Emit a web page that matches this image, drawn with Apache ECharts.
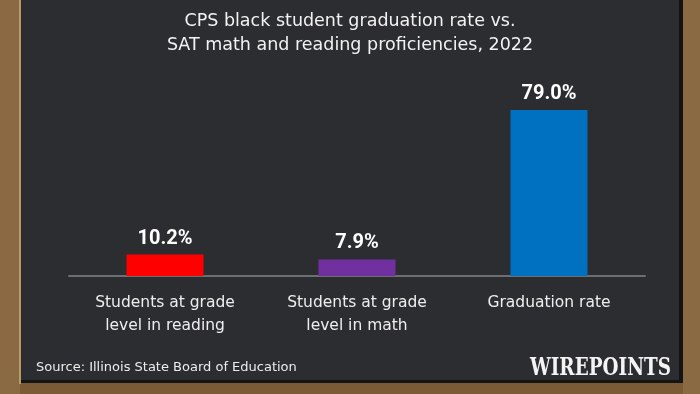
<!DOCTYPE html>
<html><head><meta charset="utf-8">
<script src="https://cdn.jsdelivr.net/npm/echarts@6/dist/echarts.min.js"></script>
<style>html,body{margin:0;padding:0;background:#2b2c2e}#c{width:700px;height:394px}</style>
</head><body><div id="c"></div>
<script>
const categories = ['Students at grade\nlevel in reading', 'Students at grade\nlevel in math', 'Graduation rate'];
const values = [10.2, 7.9, 79.0];
const barColors = ['#ff0000', '#7030a0', '#0070c0'];
const titleLines = ['CPS black student graduation rate vs.', 'SAT math and reading proficiencies, 2022'];
const sourceText = 'Source: Illinois State Board of Education';
const brandText = 'WIREPOINTS';

const FONT = '"Comic Sans MS","DejaVu Sans",sans-serif';
const chart = echarts.init(document.getElementById('c'), null, {renderer: 'canvas'});
chart.setOption({
  backgroundColor: '#7b5b36',
  animation: false,
  title: {
    text: titleLines.join('\n'),
    left: 'center', top: 4,
    textStyle: {color: '#f2f2f2', fontFamily: FONT, fontWeight: 'normal', fontSize: 17.5, lineHeight: 24}
  },
  graphic: [
    {type: 'rect', z: -10, shape: {x: 0, y: 0, width: 20, height: 394}, style: {fill: '#8a6a42'}},
    {type: 'rect', z: -10, shape: {x: 683, y: 0, width: 17, height: 394}, style: {fill: '#8a6a42'}},
    {type: 'rect', z: -9, shape: {x: 19, y: 0, width: 2, height: 384}, style: {fill: '#b89a6a'}},
    {type: 'rect', z: -9, shape: {x: 21, y: 0, width: 662, height: 383}, style: {fill: '#2c2d30'}},
    {type: 'rect', z: -8, shape: {x: 679, y: 0, width: 4, height: 383}, style: {fill: '#141414'}},
    {type: 'rect', z: -8, shape: {x: 21, y: 380, width: 662, height: 3}, style: {fill: '#141414'}},
    {type: 'text', left: 36, top: 361, style: {text: sourceText, fill: '#ececec', font: '13px ' + FONT}},
    {type: 'text', left: 530, top: 356, scaleX: 0.97, scaleY: 1.3, style: {text: brandText, fill: '#f4f4f4', font: 'bold 19px "DejaVu Serif",serif'}}
  ],
  grid: {left: 69, right: 55, top: 66, bottom: 118},
  xAxis: {
    type: 'category', data: categories,
    axisLine: {lineStyle: {color: '#6e6e70', width: 2}},
    axisTick: {show: false},
    axisLabel: {color: '#eeeeee', fontFamily: FONT, fontSize: 15.5, lineHeight: 23, margin: 15}
  },
  yAxis: {type: 'value', min: 0, max: 100, show: false, splitLine: {show: false}},
  series: [{
    type: 'bar', barWidth: 77,
    data: values.map((v, i) => ({value: v, itemStyle: {color: barColors[i]}})),
    label: {show: true, position: 'top', distance: 6, color: '#ffffff', fontFamily: 'Roboto, sans-serif', fontWeight: 'bold', fontSize: 20,
      formatter: p => p.value.toFixed(1) + '%'}
  }]
});
</script></body></html>
